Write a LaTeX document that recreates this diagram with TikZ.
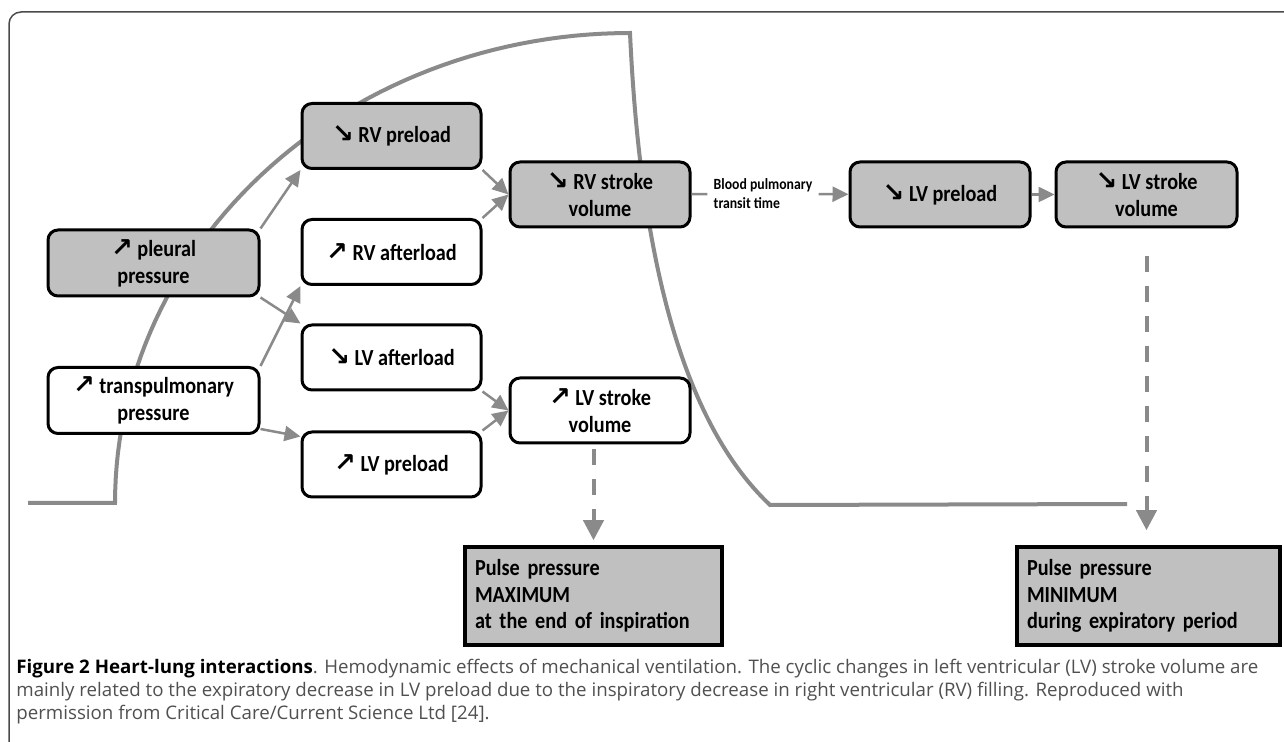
\documentclass[tikz,border=0pt]{standalone}
\usepackage{fontspec}
\setmainfont{Carlito}
\newfontfamily\boxfont{Carlito}[FakeStretch=0.88]
\newfontfamily\capfont{Open Sans}
\newfontfamily\arrowfont{DejaVu Sans}
\usetikzlibrary{arrows.meta}
\definecolor{boxgray}{HTML}{C0C0C0}
\definecolor{linegray}{HTML}{8A8A8A}
\definecolor{framegray}{HTML}{4A4A4A}
\definecolor{captiongray}{HTML}{505050}
\newcommand{\arrup}{{\arrowfont\bfseries\fontsize{13}{13}\selectfont ↗}}
\newcommand{\arrdn}{{\arrowfont\bfseries\fontsize{13}{13}\selectfont ↘}}

\begin{document}
\begin{tikzpicture}[x=0.5pt, y=-0.5pt,
  box/.style={draw=black, line width=1.5pt, rounded corners=5pt, align=center, inner sep=2pt,
    font=\boxfont\fontsize{11.5}{13.5}\selectfont\bfseries},
  leftbox/.style={box, minimum width=105.5pt, minimum height=33pt},
  midbox/.style={box, minimum width=89.5pt, minimum height=32.5pt},
  pulsebox/.style={draw=black, line width=1.75pt, fill=boxgray, align=left, inner xsep=5pt,
    minimum height=49pt, font=\boxfont\fontsize{11.5}{13.25}\selectfont\bfseries},
  arr/.style={draw=linegray, line width=1.25pt, -{Triangle[length=8pt, width=7.5pt]}},
  dasharr/.style={draw=linegray, line width=2pt, dash pattern=on 8pt off 7pt,
    -{Triangle[length=10pt, width=10pt]}},
  curve/.style={draw=linegray, line width=2pt},
  frame/.style={draw=framegray, line width=0.75pt, rounded corners=6pt}]
\useasboundingbox (0,0) rectangle (1284,742);
\draw[frame] (9,760) -- (9,12) -- (1300,12);

% breathing curve
\draw[curve] (28,503) -- (115,503)
  -- plot[domain=180:90, samples=60] ({630+515*cos(\x)}, {503-470*sin(\x)})
  .. controls (640,250) and (680,420) .. (770,505) -- (1127,504);

% boxes
\node[leftbox, fill=boxgray] (pleu) at (153.5,263) {\arrup{} pleural\\pressure};
\node[leftbox, fill=white] (trans) at (153.5,400.5) {\arrup{} transpulmonary\\pressure};
\node[midbox, fill=boxgray] (rvpre) at (391.5,136) {\arrdn{} RV preload};
\node[midbox, fill=white] (rvaft) at (391.5,252) {\arrup{} RV afterload};
\node[midbox, fill=white] (lvaft) at (391.5,357.5) {\arrdn{} LV afterload};
\node[midbox, fill=white] (lvpre) at (391.5,464.5) {\arrup{} LV preload};
\node[midbox, minimum width=90pt, fill=boxgray] (rvsv) at (600,194.5) {\arrdn{} RV stroke\\volume};
\node[midbox, minimum width=90pt, fill=white] (lvsv) at (600,410.5) {\arrup{} LV stroke\\volume};
\node[midbox, minimum width=90pt, fill=boxgray] (lvpg) at (940,194.5) {\arrdn{} LV preload};
\node[midbox, minimum width=90.5pt, fill=boxgray] (lvsvg) at (1146.5,194.5) {\arrdn{} LV stroke\\volume};
\node[font=\boxfont\fontsize{7.8}{9.5}\selectfont\bfseries, align=left, fill=white, inner sep=3pt] (bptt) at (763,194) {Blood pulmonary\\transit time};
\node[pulsebox, text width=118.5pt] (ppmax) at (593.5,596) {Pulse pressure\\MAXIMUM\\at the end of inspiration};
\node[pulsebox, text width=121.5pt] (ppmin) at (1148.5,596) {Pulse pressure\\MINIMUM\\during expiratory period};

% connectors
\draw[arr] (pleu.north east) -- (rvpre.south west);
\draw[arr] (pleu.south east) -- (lvaft.north west);
\draw[arr] (trans.north east) -- (rvaft.south west);
\draw[arr] ([yshift=3pt]trans.south east) -- ([yshift=-3pt]lvpre.north west);
\draw[arr] (rvpre.south east) -- (rvsv.west);
\draw[arr] (rvaft.north east) -- (rvsv.west);
\draw[arr] (lvaft.south east) -- (lvsv.west);
\draw[arr] (lvpre.north east) -- (lvsv.west);
\draw[draw=linegray, line width=1.25pt] (rvsv) -- (bptt);
\draw[arr] (bptt) -- (lvpg);
\draw[arr] (lvpg) -- (lvsvg);
\draw[dasharr, shorten <=2.5pt, shorten >=2.5pt] (ppmax.north |- lvsv.south) -- (ppmax.north);
\draw[dasharr, shorten <=14pt, shorten >=7.5pt] (lvsvg.south) -- (lvsvg.south |- ppmin.north);

% caption
\node[anchor=north west, inner sep=0pt, align=left, text=captiongray,
  font=\capfont\fontsize{9.35}{11.5}\selectfont] (cap) at (16,659)
  {\textcolor{black}{\textbf{Figure 2 Heart-lung interactions}}. Hemodynamic effects of mechanical ventilation. The cyclic changes in left ventricular (LV) stroke volume are\\
  mainly related to the expiratory decrease in LV preload due to the inspiratory decrease in right ventricular (RV) filling. Reproduced with\\
  permission from Critical Care/Current Science Ltd [24].};
\end{tikzpicture}
\end{document}
